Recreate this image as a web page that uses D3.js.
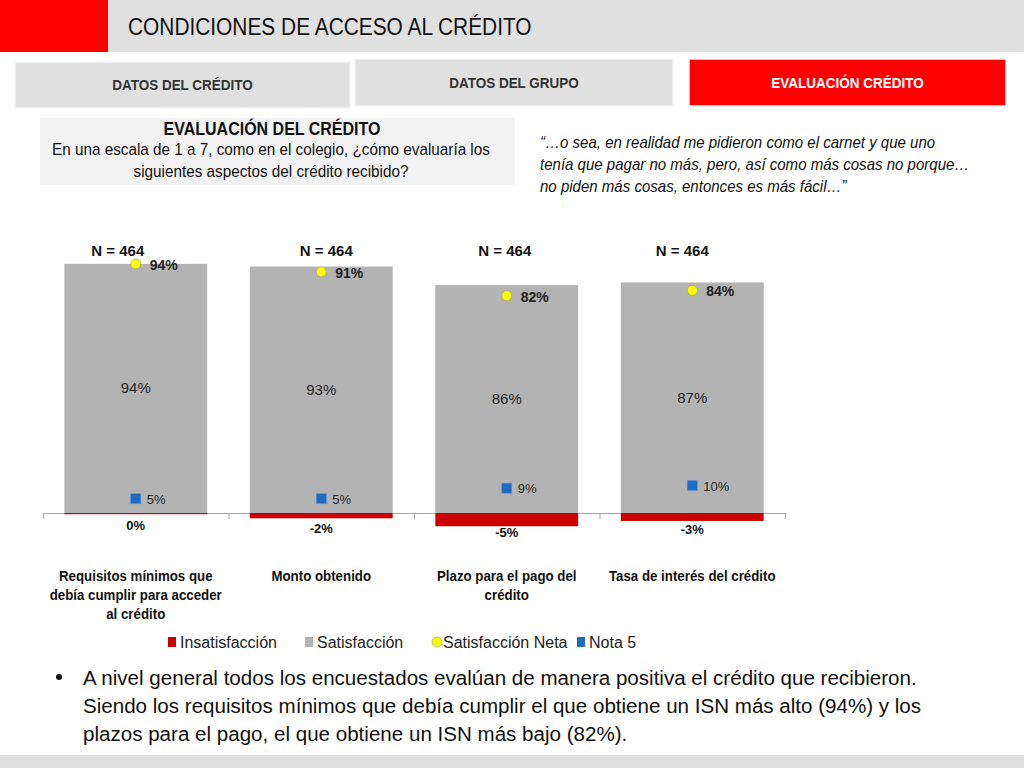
<!DOCTYPE html>
<html>
<head>
<meta charset="utf-8">
<script src="https://cdn.jsdelivr.net/npm/d3@7"></script>
<style>
  body { margin: 0; background: #fff; }
  svg { display: block; font-family: "Liberation Sans", Arial, sans-serif; }
</style>
</head>
<body>
<svg id="chart" width="1024" height="768"></svg>
<script>
// chart data
const categories = [
  ["Requisitos mínimos que", "debía cumplir para acceder", "al crédito"],
  ["Monto obtenido"],
  ["Plazo para el pago del", "crédito"],
  ["Tasa de interés del crédito"]
]
const sampleN = ["N = 464", "N = 464", "N = 464", "N = 464"]
const insatisfaccion = [0, -2, -5, -3]
const satisfaccion = [94, 93, 86, 87]
const satisfaccionNeta = [94, 91, 82, 84]
const nota5 = [5, 5, 9, 10]

const quoteLines = [
  "“…o sea, en realidad me pidieron como el carnet y que uno",
  "tenía que pagar no más, pero, así como más cosas no porque…",
  "no piden más cosas, entonces es más fácil…”"
]
const bulletLines = [
  "A nivel general todos los encuestados evalúan de manera positiva el crédito que recibieron.",
  "Siendo los requisitos mínimos que debía cumplir el que obtiene un ISN más alto (94%) y los",
  "plazos para el pago, el que obtiene un ISN más bajo (82%)."
]

const C = {
  red: "#ff0000",
  darkRed: "#cc0000",
  gray: "#b3b3b3",
  yellow: "#ffff00",
  blue: "#1f6cc4",
  panel: "#e0e0e0",
  text: "#262626"
}

const svg = d3.select("#chart")

// text squeezed horizontally to mimic the narrow slide font
function label(parent, x, y, str, sx, attrs = {}) {
  const t = parent.append("text").attr("transform", `translate(${x},${y}) scale(${sx},1)`).text(str)
  Object.entries(attrs).forEach(([k, v]) => t.attr(k, v))
  return t
}

// ---- header
svg.append("rect").attr("x", 0).attr("y", 0).attr("width", 1024).attr("height", 52).attr("fill", C.panel)
svg.append("rect").attr("x", 0).attr("y", 0).attr("width", 108).attr("height", 52).attr("fill", C.red)
label(svg, 128, 35, "CONDICIONES DE ACCESO AL CRÉDITO", 0.87, { "font-size": 24, fill: "#111" })

// tabs
const tabs = [
  { label: "DATOS DEL CRÉDITO", x: 15, y: 62, w: 335, h: 46, on: false },
  { label: "DATOS DEL GRUPO", x: 355, y: 59, w: 318, h: 47, on: false },
  { label: "EVALUACIÓN CRÉDITO", x: 689, y: 59, w: 317, h: 47, on: true }
]
tabs.forEach((d) => {
  svg.append("rect")
    .attr("x", d.x).attr("y", d.y).attr("width", d.w).attr("height", d.h)
    .attr("fill", d.on ? C.red : C.panel)
    .attr("stroke", "#f4f4f4").attr("stroke-width", 1.5)
  label(svg, d.x + d.w / 2, d.y + d.h / 2 + 5, d.label, 0.9, {
    "text-anchor": "middle", "font-size": 15, "font-weight": "bold", fill: d.on ? "#fff" : "#333"
  })
})

// question box
svg.append("rect").attr("x", 40).attr("y", 118).attr("width", 475).attr("height", 67).attr("fill", "#f2f2f2")
label(svg, 272, 135, "EVALUACIÓN DEL CRÉDITO", 0.89, { "text-anchor": "middle", "font-size": 18, "font-weight": "bold", fill: "#111" })
label(svg, 271, 155, "En una escala de 1 a 7, como en el colegio, ¿cómo evaluaría los", 0.955, { "text-anchor": "middle", "font-size": 16, fill: "#111" })
label(svg, 271, 177, "siguientes aspectos del crédito recibido?", 0.955, { "text-anchor": "middle", "font-size": 16, fill: "#111" })

// quote
quoteLines.forEach((d, i) => {
  label(svg, 540, 148 + i * 22, d, 0.94, { "font-size": 16, "font-style": "italic", fill: "#111" })
})

// ---- chart
const idx = d3.range(categories.length)
const x = d3.scaleBand().domain(idx).range([43, 785]).paddingInner(0.23).paddingOuter(0.115)
const y = d3.scaleLinear().domain([0, 100]).range([513, 248])
const cx = (i) => x(i) + x.bandwidth() / 2

const plot = svg.append("g")

// axis line with ticks at category boundaries
const axisX = d3.scaleLinear().domain([0, categories.length]).range([43, 785])
const axis = d3.axisBottom(axisX).ticks(categories.length).tickFormat("").tickSize(6).tickSizeOuter(6)
const axG = plot.append("g").attr("transform", `translate(0,${y(0)})`).call(axis)
axG.selectAll("path, line").attr("stroke", "#a6a6a6")

// satisfaction bars
plot.selectAll("rect.sat").data(idx).join("rect").attr("class", "sat")
  .attr("x", (i) => x(i)).attr("width", x.bandwidth())
  .attr("y", (i) => y(satisfaccion[i])).attr("height", (i) => y(0) - y(satisfaccion[i]))
  .attr("fill", C.gray)

// insatisfaction bars (negative)
plot.selectAll("rect.ins").data(idx).join("rect").attr("class", "ins")
  .attr("x", (i) => x(i)).attr("width", x.bandwidth())
  .attr("y", y(0)).attr("height", (i) => Math.max(1.2, y(insatisfaccion[i]) - y(0)))
  .attr("fill", C.darkRed)

// satisfaction labels (centre of bar)
plot.selectAll("text.satl").data(idx).join("text").attr("class", "satl")
  .attr("x", cx).attr("y", (i) => (y(satisfaccion[i]) + y(0)) / 2 + 5)
  .attr("text-anchor", "middle").attr("font-size", 15).attr("fill", C.text)
  .text((i) => satisfaccion[i] + "%")

// insatisfaction labels
plot.selectAll("text.insl").data(idx).join("text").attr("class", "insl")
  .attr("x", cx).attr("y", (i) => 530 + (y(insatisfaccion[i]) - y(0)) * 0.55)
  .attr("text-anchor", "middle").attr("font-size", 13).attr("font-weight", "bold").attr("fill", "#111")
  .text((i) => insatisfaccion[i] + "%")

// nota 5 markers
plot.selectAll("rect.n5").data(idx).join("rect").attr("class", "n5")
  .attr("x", (i) => cx(i) - 5).attr("y", (i) => y(nota5[i]) - 6)
  .attr("width", 10).attr("height", 10)
  .attr("fill", C.blue).attr("stroke", "#5b8fd0").attr("stroke-width", 0.6)
plot.selectAll("text.n5l").data(idx).join("text").attr("class", "n5l")
  .attr("x", (i) => cx(i) + 11).attr("y", (i) => y(nota5[i]) + 4)
  .attr("font-size", 13).attr("fill", C.text)
  .text((i) => nota5[i] + "%")

// satisfaccion neta markers
plot.selectAll("circle.sn").data(idx).join("circle").attr("class", "sn")
  .attr("cx", cx).attr("cy", (i) => y(satisfaccionNeta[i]))
  .attr("r", 5).attr("fill", C.yellow).attr("stroke", "#9a9a60").attr("stroke-width", 0.6)
plot.selectAll("text.snl").data(idx).join("text").attr("class", "snl")
  .attr("x", (i) => cx(i) + 14).attr("y", (i) => y(satisfaccionNeta[i]) + 6)
  .attr("font-size", 14).attr("font-weight", "bold").attr("fill", "#222")
  .text((i) => satisfaccionNeta[i] + "%")

// N labels (free text boxes, slightly off the bar centres)
const nShift = [-18, 5, -2, -10]
plot.selectAll("text.nl").data(idx).join("text").attr("class", "nl")
  .attr("x", (i) => cx(i) + nShift[i]).attr("y", 256)
  .attr("text-anchor", "middle").attr("font-size", 15).attr("font-weight", "bold").attr("fill", "#111")
  .text((i) => sampleN[i])

// category labels
idx.forEach((i) => {
  categories[i].forEach((t, k) => {
    label(plot, cx(i), 581 + k * 19, t, 0.95, { "text-anchor": "middle", "font-size": 14, "font-weight": "bold", fill: "#111" })
  })
})

// legend
const legend = [
  { label: "Insatisfacción", color: C.darkRed, shape: "rect", x: 168 },
  { label: "Satisfacción", color: C.gray, shape: "rect", x: 305 },
  { label: "Satisfacción Neta", color: C.yellow, shape: "circle", x: 432 },
  { label: "Nota 5", color: C.blue, shape: "rect", x: 577 }
]
const lg = svg.selectAll("g.lg").data(legend).join("g").attr("class", "lg")
  .attr("transform", (d) => `translate(${d.x},642)`)
lg.filter((d) => d.shape === "rect").append("rect")
  .attr("x", 0).attr("y", -5).attr("width", 8).attr("height", 10).attr("fill", (d) => d.color)
lg.filter((d) => d.shape === "circle").append("circle")
  .attr("cx", 5).attr("cy", 0).attr("r", 5).attr("fill", (d) => d.color).attr("stroke", "#9a9a60").attr("stroke-width", 0.6)
lg.append("text").attr("x", (d) => (d.shape === "circle" ? 11 : 12)).attr("y", 6)
  .attr("font-size", 16).attr("fill", "#222").text((d) => d.label)

// ---- bullet text
svg.append("circle").attr("cx", 59).attr("cy", 677).attr("r", 3).attr("fill", "#111")
bulletLines.forEach((d, i) => {
  label(svg, 83, 685 + i * 28, d, 0.98, { "font-size": 21, fill: "#111" })
})

// footer band
svg.append("rect").attr("x", 0).attr("y", 755).attr("width", 1024).attr("height", 13).attr("fill", C.panel)
</script>
</body>
</html>
